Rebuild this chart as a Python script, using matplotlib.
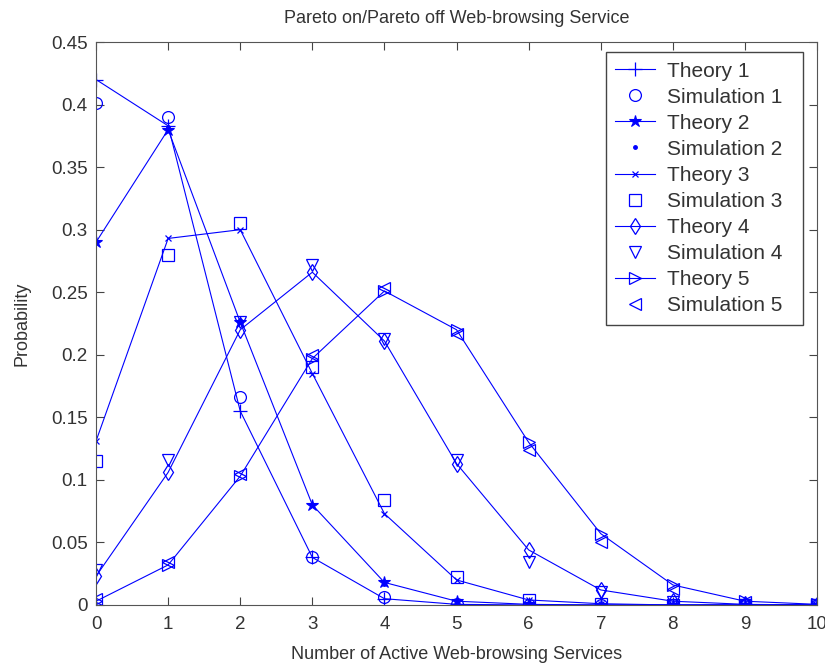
import matplotlib
matplotlib.use("Agg")
import matplotlib.pyplot as plt

plt.rcParams['font.family'] = ['Liberation Sans', 'DejaVu Sans']

# number of active services
n_active = [0, 1, 2, 3, 4, 5, 6, 7, 8, 9, 10]

theory_1 = [0.420, 0.383, 0.155, 0.038, 0.005, 0.0005, 0.0, 0.0, 0.0, 0.0, 0.0]
sim_1 = [0.401, 0.390, 0.166, 0.038, 0.006, 0.001, 0.0, 0.0, 0.0, 0.0, 0.0]
theory_2 = [0.290, 0.380, 0.226, 0.080, 0.018, 0.003, 0.0005, 0.0, 0.0, 0.0, 0.0]
sim_2 = [0.290, 0.382, 0.228, 0.080, 0.017, 0.003, 0.0005, 0.0, 0.0, 0.0, 0.0]
theory_3 = [0.131, 0.293, 0.300, 0.185, 0.073, 0.020, 0.004, 0.001, 0.0, 0.0, 0.0]
sim_3 = [0.115, 0.280, 0.305, 0.190, 0.084, 0.022, 0.004, 0.001, 0.0, 0.0, 0.0]
theory_4 = [0.023, 0.106, 0.220, 0.266, 0.211, 0.113, 0.044, 0.012, 0.003, 0.0005, 0.0]
sim_4 = [0.028, 0.116, 0.226, 0.272, 0.213, 0.116, 0.034, 0.010, 0.002, 0.0, 0.0]
theory_5 = [0.003, 0.032, 0.103, 0.197, 0.251, 0.220, 0.130, 0.057, 0.016, 0.003, 0.0005]
sim_5 = [0.005, 0.034, 0.105, 0.200, 0.253, 0.217, 0.124, 0.050, 0.013, 0.002, 0.0]

labels = ['Theory 1', 'Simulation 1', 'Theory 2', 'Simulation 2', 'Theory 3',
          'Simulation 3', 'Theory 4', 'Simulation 4', 'Theory 5', 'Simulation 5']

y_ticks = [0, 0.05, 0.1, 0.15, 0.2, 0.25, 0.3, 0.35, 0.4, 0.45]
y_ticklabels = ['0', '0.05', '0.1', '0.15', '0.2', '0.25', '0.3', '0.35', '0.4', '0.45']

blue = (0, 0, 1)
txt = '#333333'

fig = plt.figure(figsize=(8.25, 6.67), dpi=100)
ax = fig.add_axes([0.1164, 0.093, 0.874, 0.844])

ms = 8.5
lw = 0.8
ax.plot(n_active, theory_1, '-', marker='+', color=blue, lw=lw, ms=10, mew=0.9, label=labels[0])
ax.plot(n_active, sim_1, 'o', color=blue, mfc='none', ms=ms, mew=0.9, label=labels[1])
ax.plot(n_active, theory_2, '-', marker='*', color=blue, lw=lw, ms=9, mew=0.8, label=labels[2])
ax.plot(n_active, sim_2, '.', color=blue, ms=5, label=labels[3])
ax.plot(n_active, theory_3, '-', marker='x', color=blue, lw=lw, ms=5, mew=0.9, label=labels[4])
ax.plot(n_active, sim_3, 's', color=blue, mfc='none', ms=ms, mew=0.9, label=labels[5])
ax.plot(n_active, theory_4, '-', marker='d', color=blue, mfc='none', lw=lw, ms=ms, mew=0.9, label=labels[6])
ax.plot(n_active, sim_4, 'v', color=blue, mfc='none', ms=ms, mew=0.9, label=labels[7])
ax.plot(n_active, theory_5, '-', marker='>', color=blue, mfc='none', lw=lw, ms=ms, mew=0.9, label=labels[8])
ax.plot(n_active, sim_5, '<', color=blue, mfc='none', ms=ms, mew=0.9, label=labels[9])

ax.set_xlim(0, 10)
ax.set_ylim(0, 0.45)
ax.set_xticks(n_active)
ax.set_yticks(y_ticks)
ax.set_yticklabels(y_ticklabels)
ax.tick_params(direction='in', top=True, right=True, labelsize=13.5, length=6,
               colors='#444444', labelcolor=txt)
ax.tick_params(axis='x', pad=8)
ax.tick_params(axis='y', pad=6)
for s in ax.spines.values():
    s.set_color('#555555')

ax.set_title('Pareto on/Pareto off Web-browsing Service', fontsize=13, color=txt, pad=14)
ax.set_xlabel('Number of Active Web-browsing Services', fontsize=13, color=txt, labelpad=9)
ax.set_ylabel('Probability', fontsize=13, color=txt, labelpad=15)

# legend box stretched to the same width as the MATLAB one
leg = ax.legend(loc='upper right', bbox_to_anchor=(0.707, 0.0, 0.274, 0.982), mode='expand',
                fontsize=15, fancybox=False, framealpha=1, edgecolor='#444444',
                handlelength=1.9, labelspacing=0.34, borderaxespad=0.0,
                handletextpad=0.6, borderpad=0.45)
leg.get_frame().set_linewidth(1.0)
for t in leg.get_texts():
    t.set_color(txt)

fig.savefig('out.png', dpi=100)
